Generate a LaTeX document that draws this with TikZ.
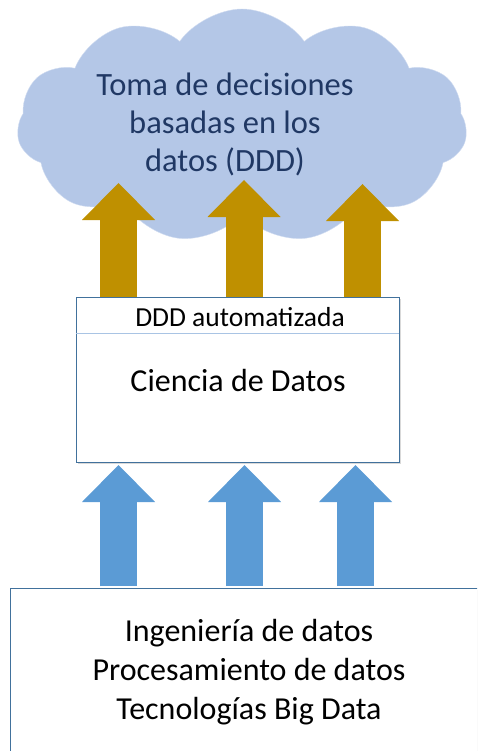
\documentclass[tikz,border=0pt]{standalone}
\usepackage{fontspec}
\setmainfont{Carlito}
\usetikzlibrary{shapes.symbols,arrows.meta,shadows}

\definecolor{nubeazul}{HTML}{B4C7E7}
\definecolor{textonube}{HTML}{203864}
\definecolor{oro}{HTML}{BF9000}
\definecolor{azulflecha}{HTML}{5B9BD5}
\definecolor{bordecaja}{HTML}{41719C}
\definecolor{lineacaja}{HTML}{A9C4E4}

\begin{document}
\begin{tikzpicture}[x=1pt,y=-1pt]
    \tikzstyle{nube}=[cloud,cloud puffs=11,cloud puff arc=110,cloud ignores aspect,
        fill=nubeazul,draw=white!40!nubeazul,minimum width=450pt,minimum height=234pt]
    \tikzstyle{caja}=[rectangle,draw=bordecaja,fill=white,line width=0.8pt,
        drop shadow={shadow xshift=2pt,shadow yshift=-2pt,opacity=.3}]
    \tikzstyle{flecha oro}=[oro,line width=37pt,-{Triangle[width=73pt,length=37pt,line width=0pt]}]
    \tikzstyle{flecha azul}=[azulflecha,line width=37pt,-{Triangle[width=73pt,length=37pt,line width=0pt]}]

    \useasboundingbox (0,0) rectangle (477,751);
    \clip (0,0) rectangle (477,751);

    % nube de decisiones
    \node(nube)[nube] at (242,126){};
    \node(decision)[text=textonube,align=center,font=\fontsize{32.5}{38}\selectfont] at (225,124)
        {Toma de decisiones\\basadas en los\\datos (DDD)};

    % ciencia de datos
    \node(ciencia)[caja,minimum width=323pt,minimum height=165pt] at (237.5,379.5){};
    \draw[lineacaja,line width=0.8pt] (ciencia.west |- 0,333) -- (ciencia.east |- 0,333);
    \node(auto)[font=\fontsize{27.5}{32}\selectfont] at (240,317){DDD automatizada};
    \node(cd)[font=\fontsize{32}{38}\selectfont] at (238,381){Ciencia de Datos};

    % big data
    \node(bigdata)[caja,anchor=north west,minimum width=500pt,minimum height=200pt] at (10,588){};
    \node(ing)[align=center,font=\fontsize{32}{39}\selectfont] at (249,672)
        {Ingeniería de datos\\Procesamiento de datos\\Tecnologías Big Data};

    % flechas
    \foreach \x/\t in {118.5/183,244/180,362.5/184}
        \draw[flecha oro] (\x,0 |- ciencia.north) -- (\x,\t);
    \foreach \x in {118.5,244.5,355.5}
        \draw[flecha azul] (\x,0 |- bigdata.north) ++(0,-2) -- (\x,465);
\end{tikzpicture}
\end{document}
